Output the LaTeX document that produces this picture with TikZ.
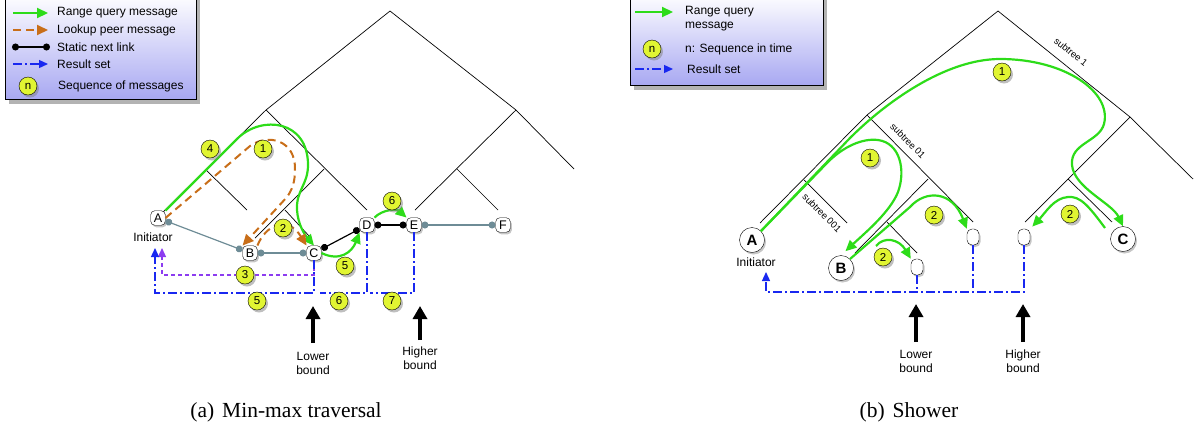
\documentclass[tikz,border=0pt]{standalone}
\usepackage{fontspec}
\setmainfont{Liberation Serif}
\setsansfont{Liberation Sans}
\usetikzlibrary{arrows.meta,shadows}

\definecolor{rqgreen}{RGB}{45,220,25}
\definecolor{lkbrown}{RGB}{200,110,25}
\definecolor{rsblue}{RGB}{25,40,240}
\definecolor{rspurple}{RGB}{140,60,240}
\definecolor{linkgray}{RGB}{110,140,150}
\definecolor{seqyellow}{RGB}{225,245,50}
\definecolor{legendblue}{RGB}{168,168,242}

\tikzset{
  shd/.style={drop shadow={opacity=0.45,shadow xshift=1.5pt,shadow yshift=-2pt}},
  peer/.style={draw, fill=white, rounded corners=4pt, minimum size=14.5pt, inner sep=0pt, font=\sffamily\fontsize{12.5}{12.5}\selectfont, shd},
  bigpeer/.style={circle, draw, fill=white, minimum size=25pt, inner sep=0pt, font=\sffamily\bfseries\fontsize{15}{15}\selectfont, shd},
  leaf/.style={draw, fill=white, rounded corners=5pt, minimum width=12pt, minimum height=16pt, inner sep=0pt, shd},
  seq/.style={circle, draw, fill=seqyellow, minimum size=18pt, inner sep=0pt, font=\sffamily\fontsize{11.5}{11.5}\selectfont, drop shadow={opacity=0.5,shadow xshift=2pt,shadow yshift=-2.5pt}},
  txt/.style={font=\sffamily\fontsize{12}{14}\selectfont, align=center, inner sep=0pt},
  subtxt/.style={font=\sffamily\fontsize{9.5}{10}\selectfont, inner sep=0pt},
  captxt/.style={font=\rmfamily\fontsize{21.5}{24}\selectfont, inner sep=0pt},
  tree/.style={line width=0.7pt},
  rq/.style={draw=rqgreen, line width=2.2pt, arrows={-Triangle[length=11pt,width=10pt]}},
  lookup/.style={draw=lkbrown, line width=2pt, dash pattern=on 8pt off 5pt, arrows={-Triangle[length=11pt,width=10pt]}},
  result/.style={draw=rsblue, line width=1.3pt, dash pattern=on 9pt off 3pt on 2pt off 3pt},
  purp/.style={draw=rspurple, line width=1.2pt, dash pattern=on 4pt off 3pt},
  restip/.style={arrows={-Triangle[length=9pt,width=8pt]}},
  slink/.style={draw=linkgray, line width=1.2pt, arrows={Circle[length=7pt]-Circle[length=7pt]}},
  nlink/.style={draw=black, line width=1.2pt, arrows={Circle[length=7pt]-Circle[length=7pt]}},
  bound/.style={line width=3.5pt, arrows={-Triangle[length=13pt,width=14pt]}},
  legendbox/.style={draw, line width=0.8pt, top color=white, bottom color=legendblue, drop shadow={opacity=0.6,shadow xshift=4pt,shadow yshift=-5pt}}
}

\begin{document}
\begin{tikzpicture}[x=1pt,y=-1pt]
  \useasboundingbox (0,0) rectangle (1198,432);

  % legend of (a)
  \path[legendbox] (5,-6) rectangle (196,99);
  \node[txt,anchor=west] (la1) at (57,13) {Range query message};
  \node[txt,anchor=west] (la2) at (57,30) {Lookup peer message};
  \node[txt,anchor=west] (la3) at (57,47) {Static next link};
  \node[txt,anchor=west] (la4) at (57,64) {Result set};
  \node[txt,anchor=west] (la5) at (58,86) {Sequence of messages};
  \node[seq] (lan) at (28,86) {n};
  \draw[rq] ([xshift=-44pt]la1.west) -- ([xshift=-9pt]la1.west);
  \draw[lookup] ([xshift=-44pt]la2.west) -- ([xshift=-9pt]la2.west);
  \draw[nlink] ([xshift=-45pt]la3.west) -- ([xshift=-7pt]la3.west);
  \draw[result,restip] ([xshift=-44pt]la4.west) -- ([xshift=-9pt]la4.west);

  % legend of (b)
  \path[legendbox] (630,-6) rectangle (823,85);
  \node[txt,anchor=west,align=left] (lb1) at (685,19) {Range query\\message};
  \node[txt,anchor=west] (lb2) at (685,49) {n: Sequence in time};
  \node[txt,anchor=west] (lb3) at (687,69) {Result set};
  \node[seq] (lbn) at (652,49) {n};
  \draw[rq] ([xshift=-50pt,yshift=7pt]lb1.west) -- ([xshift=-12pt,yshift=7pt]lb1.west);
  \draw[result,restip] ([xshift=-52pt]lb3.west) -- ([xshift=-14pt]lb3.west);

  % tree (a)
  \draw[tree] (163,212) -- (266,110) -- (390,11) -- (516,110) -- (574,169);
  \draw[tree] (266,110) -- (367,210);
  \draw[tree] (206,170) -- (247,210);
  \draw[tree] (324,169) -- (255,238);
  \draw[tree] (285,210) -- (310,237);
  \draw[tree] (516,110) -- (415,210);
  \draw[tree] (457,169) -- (498,210);

  % peers (a)
  \node[peer] (A) at (158,218) {A};
  \node[peer] (B) at (250,253) {B};
  \node[peer] (C) at (314,253) {C};
  \node[peer] (D) at (367,225) {D};
  \node[peer] (E) at (414,225) {E};
  \node[peer] (F) at (503,225) {F};
  \node[txt] (initA) at (153,237) {Initiator};

  \draw[slink] (A) -- (B);
  \draw[slink] (B) -- (C);
  \draw[slink] (E) -- (F);
  \draw[nlink] (C) -- (D);
  \draw[nlink] (D) -- (E);

  % result sets (a)
  \coordinate (lres) at (155,293);
  \coordinate (ltip) at (155,248);
  \coordinate (lpur) at (162,275);
  \coordinate (ptip) at (162,248);
  \coordinate (dres) at (320,293);
  \coordinate (eres) at (370,293);
  \draw[purp,restip] (C.south) -- (C.south |- lpur) -- (lpur) -- (ptip); % 3
  \draw[result,restip] (C.south) -- (C.south |- lres) -- (lres) -- (ltip); % 5
  \draw[result] (D.south) |- (dres); % 6
  \draw[result] (E.south) |- (eres); % 7

  % messages (a)
  \draw[lookup] (A.east) -- (250,146) .. controls (268,133) and (296,140) .. (295,170)
    .. controls (295,182) and (292,190) .. (287,197) -- (B.north west); % 1
  \draw[rq] (A.north east) -- (238,138) .. controls (262,115) and (308,120) .. (308,165)
    .. controls (308,185) and (296,190) .. (297,210) .. controls (298,225) and (305,235) .. (C.north); % 4
  \draw[lookup] (B.north east) .. controls (265,226) and (287,214) .. (C.north west); % 2
  \draw[rq] (C.east) .. controls (340,262) and (352,252) .. (D.south west); % 5
  \draw[rq] (D.north east) .. controls (383,209) and (397,209) .. (E.north west); % 6

  % bounds (a)
  \node[txt,anchor=north] (lowA) at (313,352) {Lower\\bound};
  \node[txt,anchor=north] (highA) at (420,347) {Higher\\bound};
  \coordinate (lowAtip) at (313,306);
  \coordinate (highAtip) at (420,306);
  \draw[bound,shorten <=9pt] (lowA.north) -- (lowAtip);
  \draw[bound,shorten <=7pt] (highA.north) -- (highAtip);

  % sequence numbers (a)
  \node[seq] (sa4) at (210,149) {4};
  \node[seq] (sa1) at (263,149) {1};
  \node[seq] (sa2) at (283,228) {2};
  \node[seq] (sa3) at (245,275) {3};
  \node[seq] (sa5) at (345,266) {5};
  \node[seq] (sa6) at (392,201) {6};
  \node[seq] (ra5) at (257,301) {5};
  \node[seq] (ra6) at (339,301) {6};
  \node[seq] (ra7) at (392,301) {7};

  \node[captxt] (capA) at (286,412) {(a)\hspace{8pt}Min-max traversal};

  % tree (b)
  \draw[tree] (760,223) -- (867,115) -- (998,11) -- (1130,117) -- (1193,179);
  \draw[tree] (867,115) -- (973,222);
  \draw[tree] (804,180) -- (847,223);
  \draw[tree] (928,179) -- (855,253);
  \draw[tree] (887,222) -- (917,253);
  \draw[tree] (1130,117) -- (1025,222);
  \draw[tree] (1068,179) -- (1112,222);
  \node[subtxt,rotate=-38.8] (st1) at (1071,52) {subtree 1};
  \node[subtxt,rotate=-45] (st01) at (908,141) {subtree 01};
  \node[subtxt,rotate=-45] (st001) at (822,213) {subtree 001};

  % peers (b)
  \node[bigpeer] (rA) at (752,240) {A};
  \node[bigpeer] (rB) at (841,268) {B};
  \node[bigpeer] (rC) at (1123,239) {C};
  \node[leaf] (l1) at (917,267) {};
  \node[leaf] (l2) at (973,237) {};
  \node[leaf] (l3) at (1024,237) {};
  \node[txt] (initB) at (756,262) {Initiator};

  % result set (b)
  \coordinate (rres) at (766,292);
  \coordinate (rtip) at (766,272);
  \draw[result,restip] (l3.south) |- (rres) -- (rtip);
  \draw[result] (l2.south) -- (l2.south |- rres);
  \draw[result] (l1.south) -- (l1.south |- rres);

  % messages (b)
  \coordinate (rBsplit) at (876,246);
  \coordinate (rCsplit) at (1105,228);
  \draw[rq] (rA.north east) -- (850,138) .. controls (885,103) and (945,59) .. (1000,59)
    .. controls (1065,59) and (1112,92) .. (1104,124) .. controls (1099,142) and (1070,143) .. (1072,165)
    .. controls (1074,188) and (1112,203) .. (rC.north); % 1
  \draw[rq,shorten >=6pt] (rA.north east) -- (828,162) .. controls (843,147) and (862,138) .. (878,140)
    .. controls (900,143) and (906,170) .. (898,192) .. controls (890,212) and (866,232) .. (rB.north); % 1
  \draw[rq] (rB.north east) -- (910,207) .. controls (925,190) and (952,190) .. (l2.north west); % 2
  \draw[rq] (rBsplit) .. controls (884,236) and (899,239) .. (l1.north west); % 2
  \draw[rq,shorten >=3pt] (rCsplit) .. controls (1088,205) and (1080,196) .. (1068,197)
    .. controls (1054,198) and (1046,212) .. (l3.north east); % 2

  % bounds (b)
  \node[txt,anchor=north] (lowB) at (916,350) {Lower\\bound};
  \node[txt,anchor=north] (highB) at (1023,350) {Higher\\bound};
  \coordinate (lowBtip) at (916,304);
  \coordinate (highBtip) at (1023,304);
  \draw[bound,shorten <=8pt] (lowB.north) -- (lowBtip);
  \draw[bound,shorten <=8pt] (highB.north) -- (highBtip);

  % sequence numbers (b)
  \node[seq] (sb1) at (1002,72) {1};
  \node[seq] (sb1b) at (870,158) {1};
  \node[seq] (sb2) at (934,215) {2};
  \node[seq] (sb2b) at (883,257) {2};
  \node[seq] (sb2c) at (1070,214) {2};

  \node[captxt] (capB) at (909,412) {(b)\hspace{8pt}Shower};
\end{tikzpicture}
\end{document}
